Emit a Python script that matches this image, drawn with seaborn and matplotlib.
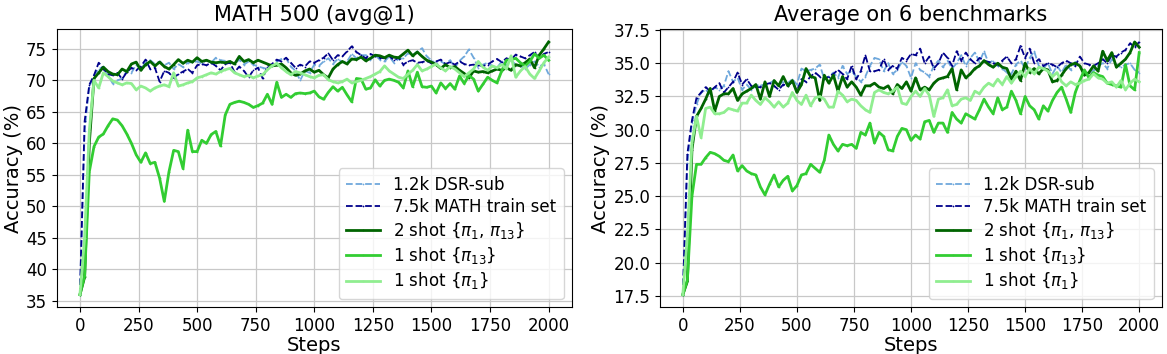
import numpy as np
import matplotlib
matplotlib.use("Agg")
import matplotlib.pyplot as plt
from matplotlib.ticker import MultipleLocator
import seaborn as sns

steps = np.arange(0, 2001, 20)

# MATH 500 (avg@1)
math_dsr = [36.0, 62.0, 69.0, 70.8, 71.8, 72.2, 70.8, 69.5, 70.0, 70.3, 71.5, 71.2, 72.5, 71.8, 72.8, 73.2, 72.6, 73.0, 72.4, 72.8,
            71.8, 72.6, 72.1, 72.8, 72.9, 73.0, 72.7, 73.2, 72.8, 73.6, 73.2, 73.1, 73.0, 72.6, 73.3, 72.5, 73.0, 72.5, 72.2, 72.0,
            71.8, 72.4, 73.0, 73.4, 73.5, 72.2, 71.5, 70.0, 71.5, 71.2, 72.5, 72.3, 73.0, 73.5, 72.6, 73.4, 72.9, 73.0, 74.2, 73.5,
            74.0, 74.0, 73.3, 74.0, 73.3, 73.0, 73.8, 72.8, 73.4, 73.5, 74.3, 74.0, 74.6, 75.1, 73.8, 73.2, 72.6, 73.0, 72.6, 73.2,
            72.0, 73.1, 73.8, 74.9, 73.6, 72.0, 72.5, 72.8, 72.3, 72.0, 73.0, 72.4, 73.2, 72.5, 72.3, 71.8, 72.5, 73.0, 72.2, 72.6,
            71.0]
math_full = [36.0, 63.5, 69.3, 70.8, 72.8, 71.8, 71.0, 70.8, 71.2, 70.2, 71.3, 72.0, 71.6, 72.2, 73.3, 71.8, 72.0, 69.8, 71.5, 71.2,
             70.4, 71.0, 71.4, 71.8, 71.2, 72.4, 72.6, 72.4, 72.8, 72.3, 71.6, 72.6, 72.8, 71.3, 72.2, 71.5, 70.5, 71.6, 72.0, 70.3,
             72.2, 72.6, 73.3, 73.0, 73.6, 72.8, 72.0, 72.5, 72.2, 73.0, 72.8, 73.2, 73.6, 74.3, 73.2, 74.0, 73.8, 74.6, 75.4, 74.5,
             74.0, 73.5, 74.2, 73.8, 73.6, 73.5, 73.9, 73.2, 73.6, 72.5, 73.0, 73.2, 72.8, 72.9, 73.1, 72.7, 73.0, 73.3, 72.6, 72.9,
             72.5, 73.0, 72.6, 72.4, 72.5, 72.4, 72.3, 72.5, 73.0, 73.4, 72.9, 73.5, 73.3, 74.1, 73.8, 73.5, 74.0, 74.5, 73.5, 74.2,
             74.5]
math_2shot = [36.0, 38.8, 60.0, 70.3, 71.2, 72.1, 71.4, 71.0, 70.9, 71.8, 71.4, 72.6, 72.9, 71.6, 72.5, 73.0, 72.3, 72.9, 72.2, 71.8,
              72.5, 73.3, 72.7, 73.2, 72.9, 73.6, 73.0, 73.2, 72.9, 72.8, 72.9, 72.8, 73.0, 72.6, 73.8, 73.0, 73.3, 72.8, 73.2, 72.9,
              72.6, 72.3, 72.4, 72.6, 72.0, 71.2, 70.8, 71.0, 71.5, 71.8, 71.3, 71.6, 70.9, 70.4, 71.8, 72.5, 73.0, 72.6, 73.4, 73.3,
              73.7, 73.1, 73.5, 74.0, 73.9, 73.6, 74.0, 73.7, 73.6, 74.2, 74.8, 73.9, 74.5, 73.8, 73.2, 72.9, 72.5, 71.9, 72.5, 72.0,
              72.2, 71.6, 71.1, 70.4, 71.5, 71.3, 71.4, 71.2, 71.5, 71.8, 71.6, 72.0, 71.6, 72.5, 72.3, 72.8, 73.4, 72.0, 74.0, 75.0,
              76.1]
math_pi13 = [36.0, 39.0, 55.5, 59.5, 61.0, 61.5, 62.8, 63.9, 63.7, 62.8, 61.5, 60.0, 58.2, 57.0, 58.5, 56.8, 57.0, 54.5, 50.8, 55.5,
             58.9, 58.7, 56.0, 62.1, 58.7, 58.7, 60.5, 60.0, 61.4, 61.9, 59.6, 64.5, 66.2, 66.5, 66.7, 66.5, 66.2, 65.7, 66.0, 66.4,
             67.8, 66.2, 69.7, 67.3, 67.8, 67.3, 67.9, 68.0, 67.9, 68.0, 68.3, 67.4, 67.0, 68.1, 69.0, 68.3, 68.9, 67.7, 66.6, 70.3,
             70.2, 68.6, 68.8, 70.1, 69.1, 70.0, 70.2, 70.0, 69.7, 68.8, 71.5, 69.0, 71.3, 69.0, 68.9, 69.1, 68.0, 69.6, 68.7, 69.5,
             68.6, 70.7, 69.5, 70.8, 70.2, 68.3, 69.4, 70.5, 70.0, 69.6, 71.5, 73.2, 73.3, 73.5, 72.8, 72.3, 73.0, 74.2, 73.5, 74.0,
             73.2]
math_pi1 = [36.0, 45.0, 62.0, 70.0, 68.8, 71.2, 70.6, 69.9, 69.6, 69.3, 69.6, 69.5, 68.5, 69.1, 68.8, 68.3, 68.8, 69.1, 69.3, 69.0,
            71.2, 69.1, 69.3, 69.6, 69.8, 70.4, 70.6, 70.9, 71.2, 71.0, 71.4, 71.7, 71.9, 71.2, 70.9, 70.6, 70.8, 70.4, 70.7, 70.9,
            71.7, 72.3, 72.7, 72.0, 71.4, 70.9, 71.4, 71.2, 70.9, 70.6, 70.4, 70.8, 70.9, 70.1, 69.8, 69.6, 69.8, 70.2, 69.6, 69.8,
            70.0, 70.3, 70.6, 71.0, 71.4, 72.3, 71.5, 71.0, 70.5, 70.3, 71.0, 71.6, 72.5, 71.5, 71.8, 72.2, 72.6, 72.0, 71.5, 72.2,
            71.8, 71.2, 70.6, 71.2, 71.8, 73.0, 72.1, 71.6, 72.3, 72.0, 72.5, 71.8, 73.9, 70.5, 71.5, 72.2, 71.0, 70.3, 71.5, 72.8,
            73.7]

# Average on 6 benchmarks
avg_dsr = [17.6, 27.5, 30.5, 31.9, 32.8, 33.0, 32.7, 33.2, 33.0, 33.3, 34.4, 33.6, 33.9, 33.0, 33.4, 33.0, 33.3, 33.4, 33.3, 33.5,
           33.7, 33.4, 33.6, 33.5, 33.8, 33.4, 34.6, 34.4, 34.5, 34.6, 34.9, 33.8, 34.0, 34.3, 33.9, 34.8, 34.2, 34.4, 34.0, 33.6,
           34.0, 34.8, 35.4, 35.3, 34.4, 35.0, 34.2, 34.5, 35.1, 34.8, 33.9, 35.0, 34.5, 34.3, 34.0, 34.8, 35.2, 34.7, 35.2, 34.6,
           35.0, 35.6, 34.8, 35.4, 35.8, 35.1, 35.9, 35.0, 35.2, 34.8, 34.6, 34.3, 34.2, 34.9, 35.2, 34.6, 35.4, 35.9, 34.8, 34.6,
           35.0, 34.2, 34.8, 34.3, 34.9, 34.5, 35.1, 34.8, 34.2, 34.0, 34.5, 34.8, 35.0, 34.6, 35.3, 34.9, 34.7, 34.9, 35.0, 34.5,
           34.3]
avg_full = [17.6, 28.2, 30.7, 32.4, 32.8, 33.2, 32.9, 33.2, 33.5, 32.8, 33.2, 33.6, 34.3, 33.4, 33.8, 33.3, 33.2, 33.2, 33.4, 33.5,
            33.3, 33.0, 33.4, 33.3, 33.6, 32.9, 33.8, 33.6, 34.0, 34.3, 34.0, 33.8, 34.0, 34.2, 34.5, 34.2, 33.8, 34.8, 33.8, 34.4,
            35.6, 34.4, 34.4, 34.5, 35.3, 34.5, 34.8, 34.6, 35.4, 35.2, 35.7, 35.6, 36.1, 35.0, 35.5, 34.6, 35.0, 35.8, 35.4, 34.8,
            35.9, 35.2, 35.8, 35.3, 35.0, 35.4, 35.2, 35.1, 35.0, 34.9, 35.2, 35.5, 35.0, 35.3, 36.3, 35.4, 36.1, 35.0, 35.3, 34.8,
            35.0, 34.9, 34.7, 35.0, 35.2, 35.0, 34.8, 35.5, 35.0, 34.9, 34.8, 35.0, 35.3, 35.0, 35.6, 35.5, 35.8, 36.0, 36.5, 36.2,
            36.6]
avg_2shot = [17.6, 18.6, 28.5, 31.0, 31.6, 32.3, 33.1, 31.4, 32.5, 32.7, 32.7, 33.1, 32.2, 32.7, 32.9, 33.1, 33.4, 32.3, 33.6, 32.5,
             33.7, 33.3, 34.0, 33.3, 33.7, 32.8, 33.4, 34.6, 34.0, 33.9, 32.2, 34.1, 33.5, 34.1, 32.9, 34.0, 33.2, 33.6, 33.2, 32.6,
             33.3, 33.3, 33.5, 33.2, 33.1, 33.3, 32.7, 33.4, 33.1, 33.6, 32.9, 33.9, 33.0, 33.2, 33.0, 33.5, 33.8, 33.9, 34.0, 34.6,
             33.0, 34.5, 33.9, 34.2, 34.6, 34.8, 35.2, 34.9, 34.7, 35.0, 34.7, 34.6, 33.8, 34.4, 33.7, 35.0, 34.3, 34.6, 34.2, 34.6,
             34.5, 33.6, 33.7, 34.1, 34.6, 34.9, 35.0, 34.8, 34.1, 34.3, 34.8, 34.4, 35.9, 35.2, 35.8, 34.7, 35.0, 35.3, 35.8, 36.6,
             36.2]
avg_pi13 = [17.6, 18.7, 25.0, 27.4, 27.4, 27.9, 28.3, 28.2, 28.0, 27.7, 27.6, 28.1, 26.9, 27.3, 26.9, 26.7, 26.6, 25.7, 25.1, 25.9,
            26.6, 25.7, 26.2, 26.5, 25.4, 25.8, 26.6, 26.7, 27.4, 27.1, 26.8, 27.7, 29.6, 28.9, 28.4, 28.9, 28.8, 28.9, 28.6, 29.8,
            29.6, 30.5, 29.0, 29.8, 29.5, 28.5, 28.4, 29.5, 30.1, 30.0, 29.2, 29.6, 29.3, 30.6, 30.7, 29.8, 30.5, 30.5, 29.8, 31.3,
            30.8, 30.5, 31.2, 31.0, 30.8, 31.5, 32.3, 31.7, 31.2, 32.4, 31.5, 31.7, 32.9, 32.2, 31.2, 32.5, 31.8, 31.5, 30.8, 31.8,
            31.4, 32.2, 32.8, 33.2, 32.3, 31.3, 32.8, 33.7, 34.5, 33.9, 34.3, 34.1, 34.0, 33.5, 33.4, 33.3, 33.2, 34.9, 33.3, 33.0,
            35.8]
avg_pi1 = [17.6, 22.0, 29.0, 31.0, 29.4, 31.6, 31.7, 31.2, 31.2, 31.3, 31.6, 31.5, 31.4, 32.0, 32.0, 32.6, 32.2, 31.9, 32.4, 32.1,
           31.7, 32.1, 31.7, 32.0, 32.8, 32.2, 31.9, 32.6, 31.8, 32.4, 32.5, 32.3, 31.7, 31.7, 32.9, 32.6, 32.1, 32.3, 32.2, 31.8,
           31.5, 31.3, 32.8, 33.0, 32.8, 32.7, 32.9, 33.2, 32.0, 31.9, 32.5, 32.9, 32.5, 33.1, 32.6, 31.0, 32.3, 32.4, 33.0, 31.8,
           31.9, 32.3, 32.4, 32.2, 32.9, 32.7, 33.2, 33.5, 33.3, 33.8, 33.4, 34.0, 33.5, 34.0, 34.4, 34.0, 34.6, 34.2, 34.7, 34.6,
           34.4, 34.0, 34.3, 33.6, 33.3, 33.6, 33.4, 33.5, 33.7, 33.8, 34.2, 33.9, 33.8, 33.5, 33.6, 33.2, 33.7, 33.0, 33.5, 33.8,
           33.6]

labels = ["1.2k DSR-sub", "7.5k MATH train set", r"2 shot $\{\pi_1$, $\pi_{13}\}$",
          r"1 shot $\{\pi_{13}\}$", r"1 shot $\{\pi_1\}$"]
colors = ["#6fa8dc", "#00008b", "#006400", "#32cd32", "#90ee90"]
styles = ["--", "--", "-", "-", "-"]
widths = [1.3, 1.3, 2.0, 2.0, 2.0]

panels = [
    ("MATH 500 (avg@1)", [math_dsr, math_full, math_2shot, math_pi13, math_pi1], 5),
    ("Average on 6 benchmarks", [avg_dsr, avg_full, avg_2shot, avg_pi13, avg_pi1], 2.5),
]

W, H = 1167, 354
fig, axes = plt.subplots(1, 2, figsize=(W / 100, H / 100), dpi=100)
# axes boxes in pixels (left, right), same top/bottom for both
boxes = [(56.5, 572.0), (660.0, 1162.0)]
top_px, bot_px = 29.3, 307.3

for ax, (title, series, ystep), (x0, x1) in zip(axes, panels, boxes):
    ax.set_position([x0 / W, 1 - bot_px / H, (x1 - x0) / W, (bot_px - top_px) / H])
    for vals, lab, c, ls, lw in zip(series, labels, colors, styles, widths):
        sns.lineplot(x=steps, y=vals, ax=ax, label=lab, color=c, linestyle=ls,
                     linewidth=lw, marker=".", markersize=2.5, markeredgewidth=0)
    ax.set_title(title, fontsize=15)
    ax.set_xlabel("Steps", fontsize=14, labelpad=1)
    ax.set_ylabel("Accuracy (%)", fontsize=14, labelpad=2)
    ax.tick_params(labelsize=12)
    ax.set_xticks([0, 250, 500, 750, 1000, 1250, 1500, 1750, 2000])
    ax.yaxis.set_major_locator(MultipleLocator(ystep))
    ax.grid(True, color="#c8c8c8", linewidth=0.9)
    ax.legend(loc="lower right", fontsize=12, labelspacing=0.25, borderpad=0.45)

plt.savefig("out.png")
